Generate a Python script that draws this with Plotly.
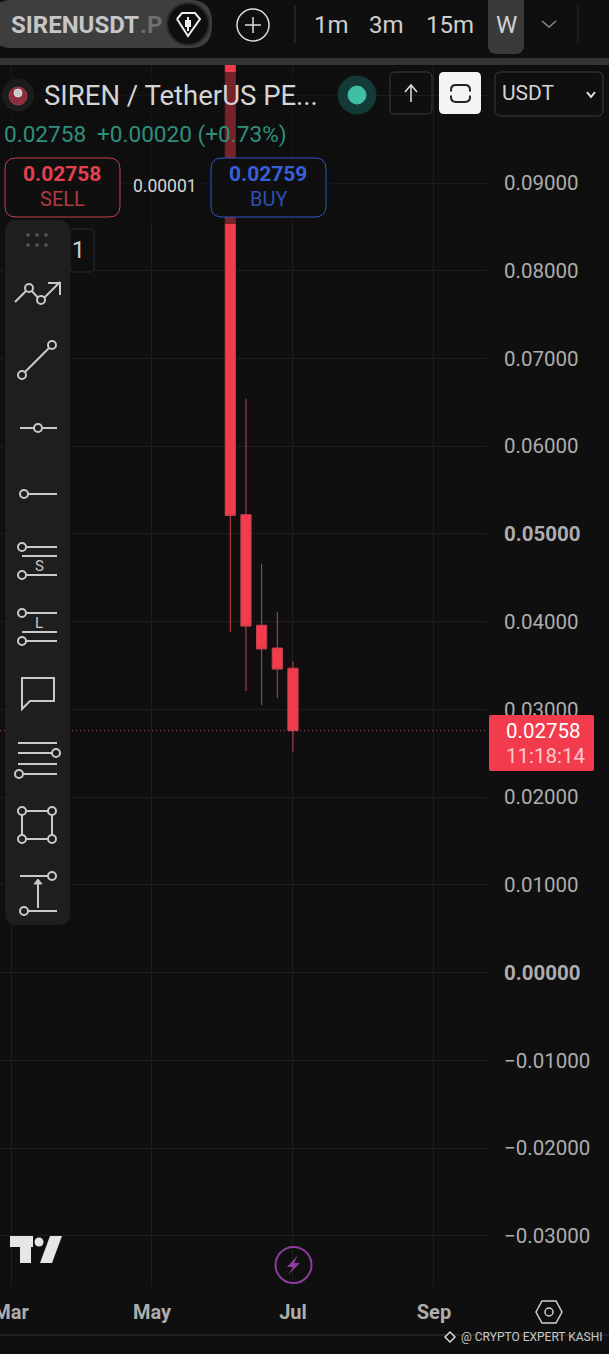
# SIRENUSDT.P weekly chart, phone screenshot
import plotly.graph_objects as go

W = 609
H = 1354
BG = '#0f0f0f'
GRID = '#1e1e1e'
RED = '#f23b4c'
WICK = '#c8404c'
ICON = '#c9c9c9'
AXIS_TEXT = '#adadad'

weeks = ['2026-06-08', '2026-06-15', '2026-06-22', '2026-06-29', '2026-07-06']
opens = [0.1180, 0.0522, 0.0396, 0.0370, 0.0347]
highs = [0.1250, 0.0654, 0.0466, 0.0411, 0.0355]
lows = [0.0388, 0.0321, 0.0305, 0.0313, 0.0252]
closes = [0.0521, 0.0395, 0.0369, 0.0346, 0.02758]

price_ticks = [0.10, 0.09, 0.08, 0.07, 0.06, 0.05, 0.04, 0.03, 0.02, 0.01, 0.0, -0.01, -0.02, -0.03]
price_labels = ['', '0.09000', '0.08000', '0.07000', '0.06000', '<b>0.05000</b>', '0.04000', '0.03000',
                '0.02000', '0.01000', '<b>0.00000</b>', '\u22120.01000', '\u22120.02000', '\u22120.03000']
month_ticks = ['2026-03-02', '2026-05-04', '2026-07-06', '2026-09-07']
month_labels = ['Mar', 'May', 'Jul', 'Sep']

last_price = closes[-1]

shapes = []
notes = []


def px(x):
    return x / W


def py(y):
    return 1 - y / H


def path(points, close=False):
    d = 'M ' + ' L '.join(f'{px(x):.5f} {py(y):.5f}' for x, y in points)
    return d + (' Z' if close else '')


def line(points, color=ICON, width=2, fill=None):
    s = dict(type='path', xref='paper', yref='paper', path=path(points, fill is not None),
             line=dict(color=color, width=width), layer='above')
    if fill:
        s['fillcolor'] = fill
    shapes.append(s)


def circle(x, y, r, color=ICON, width=2, fill='rgba(0,0,0,0)', ry=None):
    ry = ry or r
    shapes.append(dict(type='circle', xref='paper', yref='paper', x0=px(x - r), x1=px(x + r),
                       y0=py(y + ry), y1=py(y - ry), line=dict(color=color, width=width),
                       fillcolor=fill, layer='above'))


def box(x0, y0, x1, y1, r=0, fill='rgba(0,0,0,0)', color='rgba(0,0,0,0)', width=1):
    a = (
        f'M {px(x0 + r):.5f} {py(y0):.5f} L {px(x1 - r):.5f} {py(y0):.5f} '
        f'Q {px(x1):.5f} {py(y0):.5f} {px(x1):.5f} {py(y0 + r):.5f} L {px(x1):.5f} {py(y1 - r):.5f} '
        f'Q {px(x1):.5f} {py(y1):.5f} {px(x1 - r):.5f} {py(y1):.5f} L {px(x0 + r):.5f} {py(y1):.5f} '
        f'Q {px(x0):.5f} {py(y1):.5f} {px(x0):.5f} {py(y1 - r):.5f} L {px(x0):.5f} {py(y0 + r):.5f} '
        f'Q {px(x0):.5f} {py(y0):.5f} {px(x0 + r):.5f} {py(y0):.5f} Z'
    )
    shapes.append(dict(type='path', xref='paper', yref='paper', path=a, fillcolor=fill,
                       line=dict(color=color, width=width), layer='above'))


def text(x, y, s, size, color, anchor='left'):
    notes.append(dict(xref='paper', yref='paper', x=px(x), y=py(y), text=s, showarrow=False,
                      xanchor=anchor, yanchor='middle', borderpad=0,
                      font=dict(family='Roboto', size=size, color=color)))


fig = go.Figure(go.Candlestick(
    x=weeks, open=opens, high=highs, low=lows, close=closes,
    increasing=dict(line=dict(color=WICK, width=1), fillcolor=RED),
    decreasing=dict(line=dict(color=WICK, width=1), fillcolor=RED),
    whiskerwidth=0, hoverinfo='skip',
))

# last price line, under the toolbar
shapes.append(dict(type='line', xref='x domain', yref='y', x0=0, x1=1, y0=last_price, y1=last_price,
                   line=dict(color='rgba(242,110,120,0.65)', width=1, dash='1px,3px'), layer='above'))

# dimmed strip behind the legend
box(0, 72, 335, 224, fill='rgba(15,15,15,0.55)')

# top bar
box(-10, 0, 212, 48, r=22, fill='#3e3e3e')
circle(188, 24, 21, color='#2c2c2c', width=2, fill='#0f0f0f')
line([(177, 19), (182, 13), (195, 13), (200, 19), (188, 36), (177, 19)], color='#eeeeee', width=2)
line([(188, 17), (188, 31)], color='#eeeeee', width=2)
box(185, 20, 191, 27, fill='#eeeeee')
text(10, 25, '<b>SIRENUSDT</b>', 24, '#c6c6c6')
text(139, 25, '<b>.P</b>', 24, '#6e6e6e')
circle(253, 25, 16, color='#dddddd', width=1.5)
line([(245, 25), (261, 25)], color='#dddddd', width=1.5)
line([(253, 17), (253, 33)], color='#dddddd', width=1.5)
line([(295, 5), (295, 43)], color='#3a3a3a', width=1)
text(331, 25, '1m', 24, '#cfcfcf', 'center')
text(386, 25, '3m', 24, '#cfcfcf', 'center')
text(450, 25, '15m', 24, '#cfcfcf', 'center')
box(488, -8, 524, 54, r=9, fill='#3a3a3a')
text(506, 25, 'W', 24, '#cfcfcf', 'center')
line([(542, 21), (549, 27), (556, 21)], color='#8a8a8a', width=1.5)
line([(578, 5), (578, 43)], color='#2c2c2c', width=1)
box(-1, 58, W + 1, 65, fill='#343434')

# symbol row
circle(18, 95, 16, color='#1c1c1c', width=1, fill='#1c1c1c')
circle(18, 96, 9, color='#a33a48', width=1, fill='#8c2d3a')
circle(18, 93, 4, color='#d8d8d8', width=1, fill='#c8c8c8')
text(43, 95, 'SIREN / TetherUS PE...', 27.5, '#d4d4d4')
circle(357, 95, 19, color='#143a35', width=1, fill='#143a35')
circle(357, 95, 9, color='#3fbfa6', width=1, fill='#3fbfa6')
box(390, 72, 432, 114, r=5, color='#3c3c3c')
line([(411, 102), (411, 85)], color='#e0e0e0', width=1.5)
line([(405, 92), (411, 85), (417, 92)], color='#e0e0e0', width=1.5)
box(439, 72, 481, 114, r=5, fill='#f4f4f4')
box(451, 85, 470, 102, r=5, color='#222222', width=2)
line([(449, 93.5), (472, 93.5)], color='#f4f4f4', width=4)
box(495, 72, 603, 116, r=6, color='#3c3c3c')
text(501, 93, 'USDT', 21, '#d4d4d4')
line([(587, 92), (591, 97), (595, 92)], color='#e0e0e0', width=2)
text(3, 134, '0.02758', 22.6, '#2f8f7c')
text(96, 134, '+0.00020 (+0.73%)', 22.6, '#2f8f7c')

# sell / buy buttons
box(5, 158, 120, 217, r=11, fill=BG, color='#c8404c')
text(62, 174, '<b>0.02758</b>', 21, '#e5404e', 'center')
text(62, 199, 'SELL', 20, '#b23a45', 'center')
text(165, 186, '0.00001', 17.5, '#d6d6d6', 'center')
box(211, 158, 326, 217, r=11, fill=BG, color='#2f55c8')
text(268, 174, '<b>0.02759</b>', 21, '#3560d8', 'center')
text(268, 199, 'BUY', 20, '#2c4fb0', 'center')

# drawing toolbar
box(70, 229, 94, 272, r=4, fill=BG, color='#2c2c2c')
text(78, 251, '1', 23, '#cfcfcf', 'center')
box(5, 220, 70, 925, r=12, fill='#1e1e1e')
for dx in (28, 37, 46):
    for dy in (235, 245):
        circle(dx, dy, 1.5, color='#505050', width=1, fill='#505050')


def knob(x, y):
    circle(x, y, 4, color=ICON, width=2, fill='#1e1e1e')


line([(15, 302), (29, 288), (41, 301), (60, 282)])
line([(48, 283), (60, 283), (60, 295)])
knob(29, 288)
knob(41, 300)
line([(22, 375), (52, 345)])
knob(22, 375)
knob(52, 345)
line([(20, 428), (57, 428)])
knob(38, 428)
line([(24, 494), (57, 494)])
knob(24, 494)
line([(22, 547), (57, 547)])
knob(22, 547)
line([(22, 556), (57, 556)])
text(39, 566, 'S', 15, ICON, 'center')
line([(22, 575), (57, 575)])
knob(22, 575)
line([(22, 613), (57, 613)])
knob(22, 613)
text(39, 623, 'L', 15, ICON, 'center')
line([(22, 632), (57, 632)])
line([(22, 641), (57, 641)])
knob(22, 641)
line([(22, 678), (54, 678), (54, 701), (30, 701), (22, 709)], fill='rgba(0,0,0,0)')
line([(18, 743), (57, 743)])
line([(18, 753), (57, 753)])
knob(56, 753)
line([(18, 764), (57, 764)])
line([(19, 774), (57, 774)])
knob(19, 774)
line([(22, 811), (52, 811), (52, 839), (22, 839)], fill='rgba(0,0,0,0)')
for cx, cy in ((22, 811), (52, 811), (22, 839), (52, 839)):
    knob(cx, cy)
line([(20, 876), (57, 876)])
knob(52, 876)
line([(38, 908), (38, 884)])
line([(34, 884), (38, 879), (42, 884)], fill=ICON, width=1)
line([(24, 911), (57, 911)])
knob(24, 911)

# price label on the axis
box(489, 715, 594, 771, r=2, fill=RED)
text(504.5, 731, '0.02758', 20.5, '#ffffff')
text(504.5, 756, '11:18:14', 20.5, '#ffc9ce')

# bottom row
line([(10, 1236), (33, 1236), (33, 1247), (31, 1247), (31, 1263), (20, 1263), (20, 1247), (10, 1247)],
     color='#e6e6e6', width=0, fill='#e6e6e6')
circle(39, 1242, 4.5, color='#e6e6e6', width=0, fill='#e6e6e6')
line([(50, 1236), (62, 1236), (52, 1263), (40, 1263)], color='#e6e6e6', width=0, fill='#e6e6e6')
circle(293.5, 1265, 18, color='#8e3d9c', width=2)
line([(298, 1255), (287, 1267), (293, 1267), (288, 1275), (300, 1263), (294, 1263)], color='#8e3d9c', width=0, fill='#8e3d9c')
line([(536, 1312), (542, 1301), (556, 1301), (562, 1312), (556, 1323), (542, 1323)], color='#d0d0d0', width=1.5, fill='rgba(0,0,0,0)')
circle(549, 1312, 4, color='#d0d0d0', width=1.5)
line([(0, 1335), (W, 1335)], color='#333333', width=1)
line([(450, 1332), (455, 1337), (450, 1342), (445, 1337)], color='#d8d8d8', width=1.5, fill=BG)
text(460, 1337, '@ CRYPTO EXPERT KASHI', 12, '#c8c8c8')

fig.update_layout(
    width=W, height=H, autosize=False,
    margin=dict(l=0, r=0, t=0, b=0),
    paper_bgcolor=BG, plot_bgcolor=BG,
    showlegend=False,
    boxmode='overlay', boxgap=0.35, boxgroupgap=0,
    shapes=shapes, annotations=notes,
    xaxis=dict(
        type='date', domain=[0, 487 / W], range=['2026-02-25 02:00', '2026-09-30 17:00'],
        rangeslider=dict(visible=False), automargin=False,
        tickmode='array', tickvals=month_ticks, ticktext=[f'<b>{m}</b>' for m in month_labels],
        tickfont=dict(family='Roboto', size=20, color=AXIS_TEXT), tickangle=0,
        ticklabeloverflow='allow',
        gridcolor=GRID, gridwidth=1, showline=False, zeroline=False,
        ticks='outside', ticklen=7, tickcolor=BG,
    ),
    yaxis=dict(
        side='right', domain=[1 - 1287 / H, 1 - 65 / H], range=[-0.03582, 0.10345],
        automargin=False,
        tickmode='array', tickvals=price_ticks, ticktext=price_labels,
        tickfont=dict(family='Roboto', size=20.5, color=AXIS_TEXT),
        gridcolor=GRID, gridwidth=1, showline=False, zeroline=False,
        ticks='outside', ticklen=12, tickcolor=BG,
    ),
)

fig.write_html('out.html', config=dict(displayModeBar=False),
               post_script="document.body.style.margin='0';document.body.style.background='#0f0f0f';")
